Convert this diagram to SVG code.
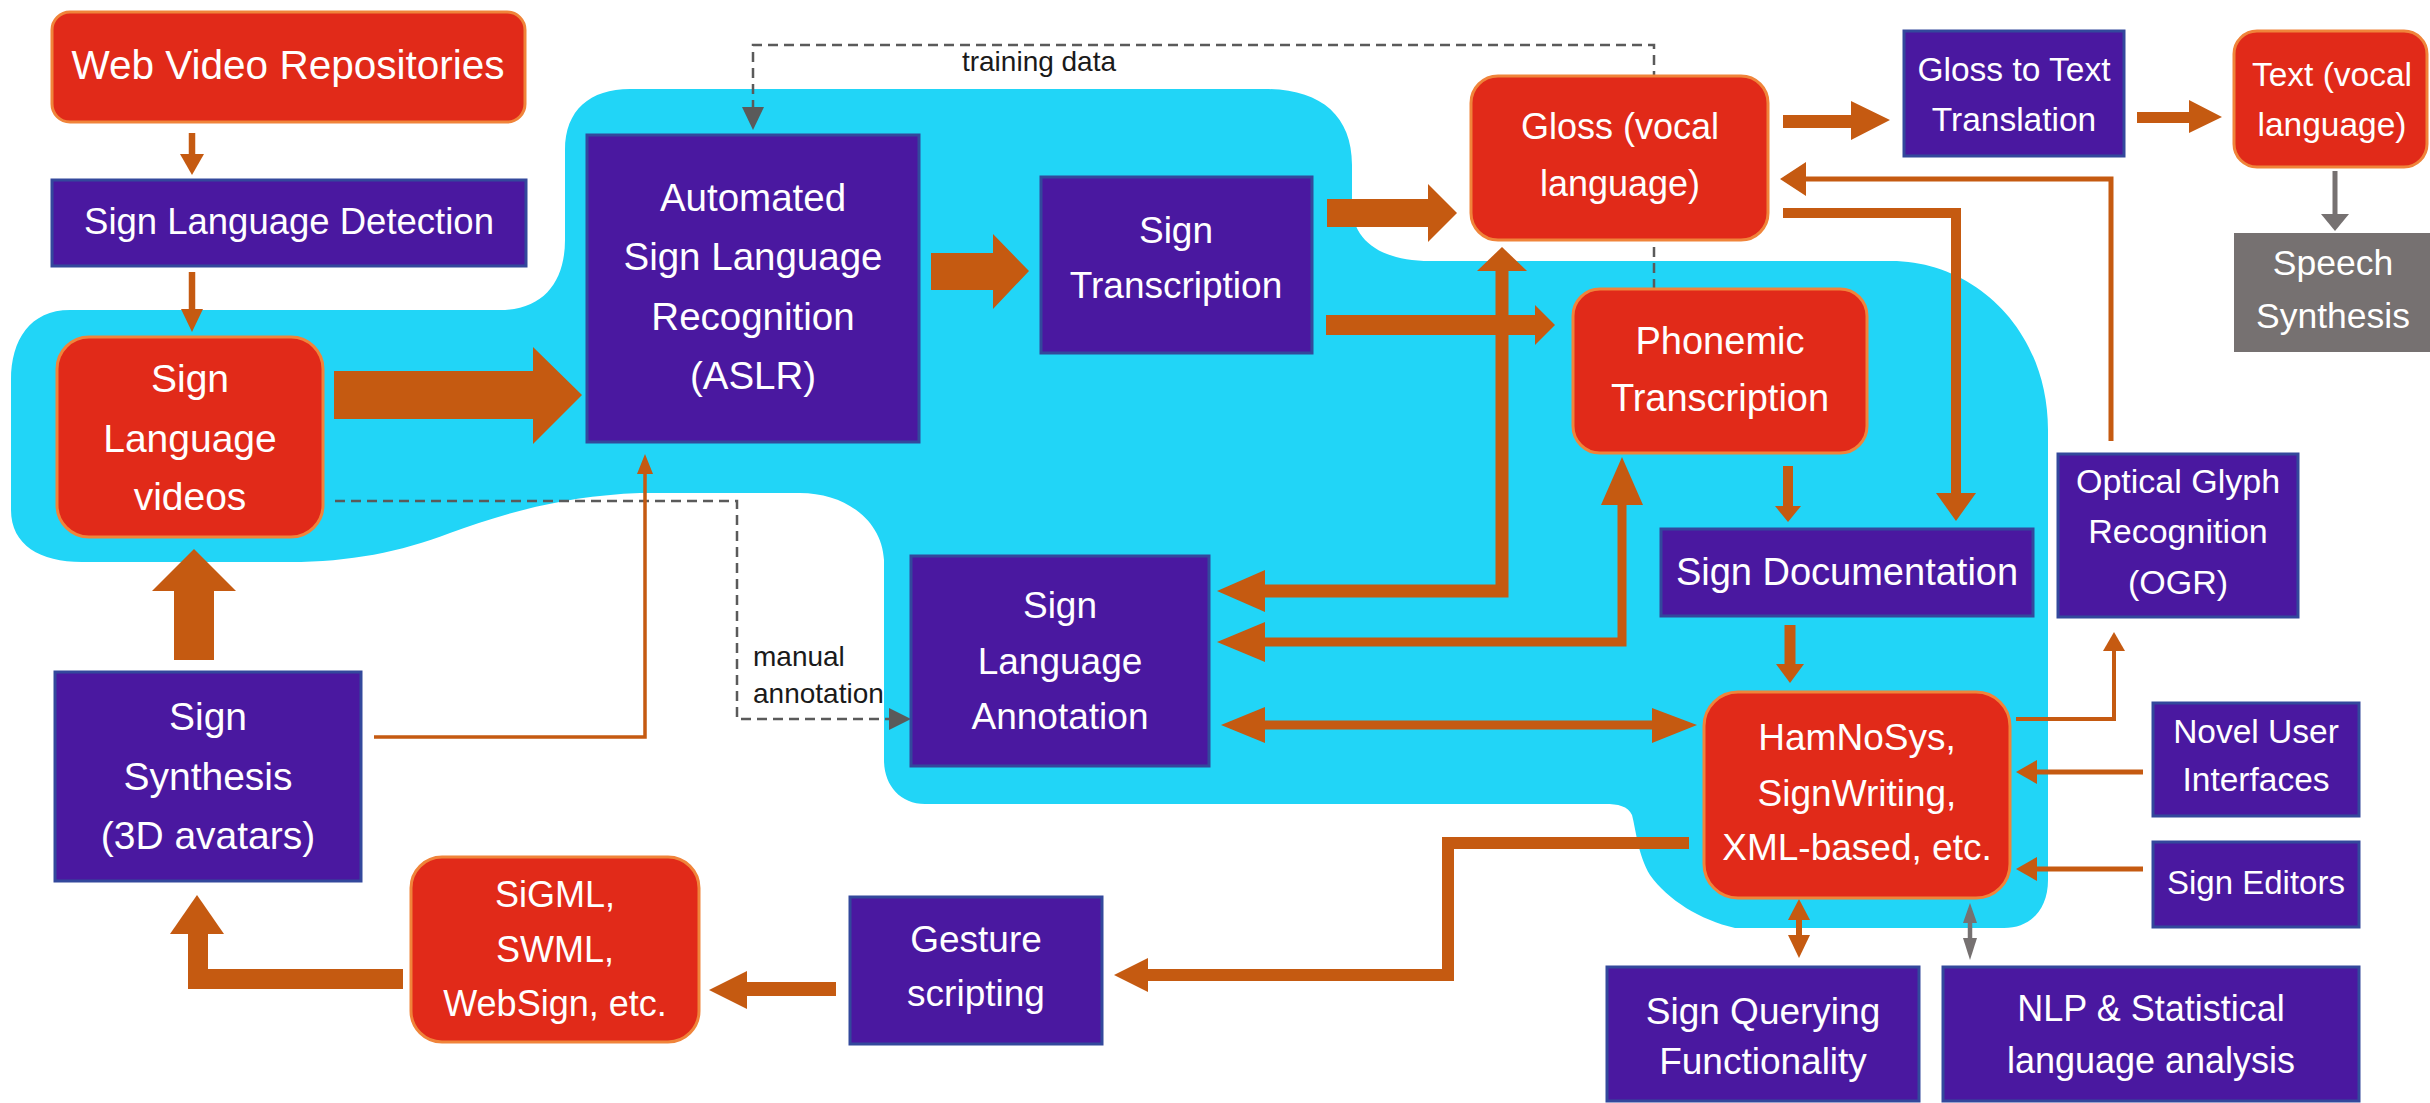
<svg xmlns="http://www.w3.org/2000/svg" width="2430" height="1103" viewBox="0 0 2430 1103">
<style>
.red{fill:#E12A19;stroke:#F0843A;stroke-width:3}
.pur{fill:#4A18A0;stroke:#33489C;stroke-width:3}
.gry{fill:#767171}
.t{font-family:"Liberation Sans",Arial,sans-serif;fill:#FFFFFF;text-anchor:middle}
.lbl{font-family:"Liberation Sans",Arial,sans-serif;fill:#1A1A1A;font-size:28px}
.oa{fill:#C55A11}
.ol{fill:none;stroke:#C55A11;stroke-linejoin:miter}
.ga{fill:#767171}
.gl{fill:none;stroke:#767171}
.dl{fill:none;stroke:#5A5A5A;stroke-width:2.5;stroke-dasharray:10 6}
.da{fill:#5A5A5A}
</style>
<rect width="2430" height="1103" fill="#FFFFFF"/>
<path id="region" fill="#21D5F7" d="M 11,380 C 11,340 30,310 70,310 L 500,310 C 545,310 565,280 565,240 L 565,150 C 565,110 590,89 630,89 L 1265,89 C 1320,89 1352,115 1352,165 L 1352,205 C 1352,240 1380,261 1430,261 L 1891,261 C 1975,261 2048,330 2048,430 L 2048,880 C 2048,910 2030,928 2004,928 L 1735,928 C 1700,920 1668,900 1650,875 C 1638,855 1636,830 1632,815 C 1628,806 1618,804 1605,804 L 925,804 C 900,804 884,785 884,760 L 884,560 C 882,520 845,493 800,493 L 640,493 C 560,496 500,515 450,533 C 400,552 350,562 290,562 L 82,562 C 40,562 11,545 11,510 Z"/>
<g id="connectors">
  <path class="dl" d="M 1654,289 L 1654,45 L 753,45 L 753,108"/>
  <polygon class="da" points="742,107 764,107 753,130"/>
  <path class="dl" d="M 335,501 L 737,501 L 737,719 L 890,719"/>
  <polygon class="da" points="889,708 889,730 911,719"/>
  <text class="lbl" x="1039" y="71" text-anchor="middle">training data</text>
  <text class="lbl" x="753" y="666">manual</text>
  <text class="lbl" x="753" y="703">annotation</text>

  <path class="ol" stroke-width="6.5" d="M 192,133 L 192,155"/>
  <polygon class="oa" points="180,154 204,154 192,175"/>
  <path class="ol" stroke-width="6.5" d="M 192,272 L 192,310"/>
  <polygon class="oa" points="181,309 203,309 192,332"/>
  <polygon class="oa" points="334,371 533,371 533,347 582,395 533,444 533,419 334,419"/>
  <polygon class="oa" points="931,253 993,253 993,234 1029,271 993,309 993,290 931,290"/>
  <polygon class="oa" points="1327,199 1428,199 1428,184 1457,213 1428,242 1428,227 1327,227"/>
  <polygon class="oa" points="1783,115 1851,115 1851,101 1890,120 1851,140 1851,128 1783,128"/>
  <polygon class="oa" points="2137,112 2189,112 2189,100 2222,117 2189,133 2189,123 2137,123"/>
  <path class="gl" stroke-width="5" d="M 2335,171 L 2335,215"/>
  <polygon class="ga" points="2321,214 2349,214 2335,231"/>

  <path class="ol" stroke-width="13" d="M 1502,270 L 1502,591 L 1264,591"/>
  <polygon class="oa" points="1477,271 1527,271 1502,247"/>
  <polygon class="oa" points="1265,570 1265,612 1217,591"/>
  <polygon class="oa" points="1326,315 1535,315 1535,305 1555,325 1535,345 1535,335 1326,335"/>
  <path class="ol" stroke-width="9" d="M 1622,504 L 1622,642 L 1264,642"/>
  <polygon class="oa" points="1601,505 1643,505 1622,457"/>
  <polygon class="oa" points="1265,622 1265,662 1217,642"/>
  <path class="ol" stroke-width="9" d="M 1264,725 L 1653,725"/>
  <polygon class="oa" points="1265,707 1265,743 1221,725"/>
  <polygon class="oa" points="1652,708 1652,743 1697,725"/>

  <path class="ol" stroke-width="10" d="M 1783,213 L 1956,213 L 1956,494"/>
  <polygon class="oa" points="1936,493 1976,493 1956,521"/>
  <path class="ol" stroke-width="10" d="M 1788,466 L 1788,507"/>
  <polygon class="oa" points="1775,506 1801,506 1788,522"/>
  <path class="ol" stroke-width="11" d="M 1790,625 L 1790,665"/>
  <polygon class="oa" points="1776,664 1804,664 1790,683"/>

  <path class="ol" stroke-width="5" d="M 2111,441 L 2111,179 L 1805,179"/>
  <polygon class="oa" points="1806,162 1806,196 1780,179"/>
  <path class="ol" stroke-width="4" d="M 2016,719 L 2114,719 L 2114,650"/>
  <polygon class="oa" points="2103,651 2125,651 2114,632"/>
  <path class="ol" stroke-width="5" d="M 2143,772 L 2036,772"/>
  <polygon class="oa" points="2037,760 2037,784 2016,772"/>
  <path class="ol" stroke-width="5" d="M 2143,869 L 2036,869"/>
  <polygon class="oa" points="2037,857 2037,881 2016,869"/>

  <path class="ol" stroke-width="6" d="M 1799,919 L 1799,936"/>
  <polygon class="oa" points="1788,920 1810,920 1799,899"/>
  <polygon class="oa" points="1788,935 1810,935 1799,958"/>
  <path class="gl" stroke-width="4.5" d="M 1970,922 L 1970,939"/>
  <polygon class="ga" points="1963,923 1977,923 1970,903"/>
  <polygon class="ga" points="1963,938 1977,938 1970,960"/>

  <path class="ol" stroke-width="12" d="M 1689,843 L 1448,843 L 1448,975 L 1147,975"/>
  <polygon class="oa" points="1148,958 1148,992 1114,975"/>
  <path class="ol" stroke-width="14" d="M 836,989 L 746,989"/>
  <polygon class="oa" points="747,971 747,1009 709,990"/>
  <path class="ol" stroke-width="20" d="M 403,979 L 198,979 L 198,933"/>
  <polygon class="oa" points="170,934 224,934 197,895"/>
  <polygon class="oa" points="174,660 174,591 152,591 194,549 236,591 214,591 214,660"/>
  <path class="ol" stroke-width="3.5" d="M 374,737 L 645,737 L 645,473"/>
  <polygon class="oa" points="637,474 653,474 645,454"/>
</g>

<g id="n-web"><rect class="red" x="52" y="12" width="473" height="110" rx="18"/><text class="t" x="288" y="79" font-size="40.5">Web Video Repositories</text></g>
<g id="n-detect"><rect class="pur" x="52" y="180" width="474" height="86"/><text class="t" x="289" y="234" font-size="36.5">Sign Language Detection</text></g>
<g id="n-videos"><rect class="red" x="57" y="337" width="266" height="200" rx="32"/><text class="t" x="190" font-size="39"><tspan x="190" y="392">Sign</tspan><tspan x="190" y="452">Language</tspan><tspan x="190" y="510">videos</tspan></text></g>
<g id="n-aslr"><rect class="pur" x="587" y="135" width="332" height="307"/><text class="t" font-size="38.5"><tspan x="753" y="211">Automated</tspan><tspan x="753" y="270">Sign Language</tspan><tspan x="753" y="330">Recognition</tspan><tspan x="753" y="389">(ASLR)</tspan></text></g>
<g id="n-st"><rect class="pur" x="1041" y="177" width="271" height="176"/><text class="t" font-size="37"><tspan x="1176" y="243">Sign</tspan><tspan x="1176" y="298">Transcription</tspan></text></g>
<g id="n-gloss"><rect class="red" x="1471" y="76" width="297" height="164" rx="27"/><text class="t" font-size="36"><tspan x="1620" y="139">Gloss (vocal</tspan><tspan x="1620" y="196">language)</tspan></text></g>
<g id="n-g2t"><rect class="pur" x="1904" y="31" width="220" height="125"/><text class="t" font-size="33.5"><tspan x="2014" y="81">Gloss to Text</tspan><tspan x="2014" y="131">Translation</tspan></text></g>
<g id="n-text"><rect class="red" x="2234" y="31" width="193" height="136" rx="23"/><text class="t" font-size="33.5"><tspan x="2332" y="86">Text (vocal</tspan><tspan x="2332" y="136">language)</tspan></text></g>
<g id="n-speech"><rect class="gry" x="2234" y="233" width="196" height="119"/><text class="t" font-size="35.5"><tspan x="2333" y="275">Speech</tspan><tspan x="2333" y="328">Synthesis</tspan></text></g>
<g id="n-phon"><rect class="red" x="1573" y="289" width="294" height="164" rx="27"/><text class="t" font-size="38"><tspan x="1720" y="354">Phonemic</tspan><tspan x="1720" y="411">Transcription</tspan></text></g>
<g id="n-doc"><rect class="pur" x="1661" y="529" width="372" height="87"/><text class="t" x="1847" y="585" font-size="38">Sign Documentation</text></g>
<g id="n-ogr"><rect class="pur" x="2058" y="454" width="240" height="163"/><text class="t" font-size="34"><tspan x="2178" y="493">Optical Glyph</tspan><tspan x="2178" y="543">Recognition</tspan><tspan x="2178" y="594">(OGR)</tspan></text></g>
<g id="n-ham"><rect class="red" x="1704" y="692" width="306" height="206" rx="34"/><text class="t" font-size="37"><tspan x="1857" y="750">HamNoSys,</tspan><tspan x="1857" y="806">SignWriting,</tspan><tspan x="1857" y="860">XML-based, etc.</tspan></text></g>
<g id="n-nui"><rect class="pur" x="2153" y="703" width="206" height="113"/><text class="t" font-size="33.5"><tspan x="2256" y="743">Novel User</tspan><tspan x="2256" y="791">Interfaces</tspan></text></g>
<g id="n-editors"><rect class="pur" x="2153" y="842" width="206" height="85"/><text class="t" x="2256" y="894" font-size="33">Sign Editors</text></g>
<g id="n-query"><rect class="pur" x="1607" y="967" width="312" height="134"/><text class="t" font-size="37"><tspan x="1763" y="1024">Sign Querying</tspan><tspan x="1763" y="1074">Functionality</tspan></text></g>
<g id="n-nlp"><rect class="pur" x="1943" y="967" width="416" height="134"/><text class="t" font-size="36"><tspan x="2151" y="1021">NLP &amp; Statistical</tspan><tspan x="2151" y="1073">language analysis</tspan></text></g>
<g id="n-annot"><rect class="pur" x="911" y="556" width="298" height="210"/><text class="t" font-size="37"><tspan x="1060" y="618">Sign</tspan><tspan x="1060" y="674">Language</tspan><tspan x="1060" y="729">Annotation</tspan></text></g>
<g id="n-gesture"><rect class="pur" x="850" y="897" width="252" height="147"/><text class="t" font-size="37"><tspan x="976" y="952">Gesture</tspan><tspan x="976" y="1006">scripting</tspan></text></g>
<g id="n-sigml"><rect class="red" x="411" y="857" width="288" height="185" rx="31"/><text class="t" font-size="36"><tspan x="555" y="907">SiGML,</tspan><tspan x="555" y="962">SWML,</tspan><tspan x="555" y="1016">WebSign, etc.</tspan></text></g>
<g id="n-synth"><rect class="pur" x="55" y="672" width="306" height="209"/><text class="t" font-size="39"><tspan x="208" y="730">Sign</tspan><tspan x="208" y="790">Synthesis</tspan><tspan x="208" y="849">(3D avatars)</tspan></text></g>
</svg>
